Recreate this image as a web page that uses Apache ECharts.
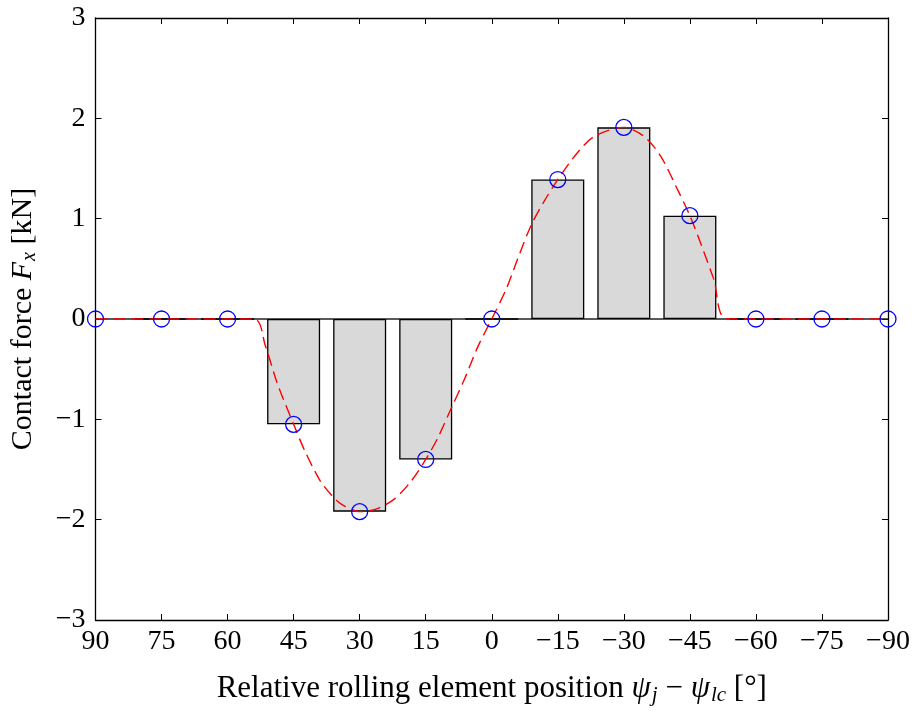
<!DOCTYPE html>
<html lang="en">

<head>
  <meta charset="UTF-8">
  <title>Contact force</title>
  <style>
    body { margin: 0; background: #fff; }
    #main { width: 917px; height: 711px; }
  </style>
</head>

<body>
  <div id="main"></div>
  <script src="https://cdn.jsdelivr.net/npm/echarts@6/dist/echarts.min.js"></script>
  <script>
    const myChart = echarts.init(document.getElementById('main'));

    // rolling element positions (deg) and contact forces (kN)
    const positions = [90, 75, 60, 45, 30, 15, 0, -15, -30, -45, -60, -75, -90];
    const forces = [0, 0, 0, -1.05, -1.92, -1.40, 0, 1.39, 1.91, 1.03, 0, 0, 0];

    // continuous model curve
    const curveAngle = [90, 54, 51.4, 48.8, 45, 42.4, 39, 36.3, 34, 30, 26, 22, 18.2, 15, 12.2, 9.2, 6.2, 3.2, 0,
      -3.3, -5.9, -8.9, -12, -15, -19.5, -23.3, -30, -34.6, -38.4, -42.2, -45, -47.4, -50.4, -53.5, -90];
    const curveForce = [0, 0, -0.27, -0.63, -1.05, -1.32, -1.61, -1.76, -1.85, -1.92, -1.89, -1.79, -1.61, -1.40, -1.18, -0.89, -0.6, -0.28, 0,
      0.3, 0.6, 0.93, 1.18, 1.39, 1.66, 1.82, 1.91, 1.82, 1.62, 1.29, 1.03, 0.76, 0.4, 0, 0];

    const yTicks = [-3, -2, -1, 0, 1, 2, 3];

    const font = 'Liberation Serif';
    const minus = v => String(v).replace('-', '\u2212');

    const points = positions.map((p, i) => [p, forces[i]]);
    // bars at the ±90 edges would stick out of the frame; they are zero anyway
    const bars = points.filter(d => Math.abs(d[0]) < 90);
    const curve = curveAngle.map((a, i) => [a, curveForce[i]]);
    const zeroLine = [[positions[0], 0], [positions[positions.length - 1], 0]];

    // rich text styles for axis titles (italic symbols, subscripts)
    const titleRich = size => ({
      n: { fontFamily: font, fontSize: size, color: '#000' },
      i: { fontFamily: font, fontSize: size, fontStyle: 'italic', color: '#000' },
      s: { fontFamily: font, fontSize: Math.round(size * 0.68), fontStyle: 'italic', color: '#000', padding: [13, 0, 0, 1] }
    });

    const option = {
      animation: false,
      grid: { left: 93, right: 29, top: 18, bottom: 89 },
      xAxis: [
        {
          type: 'value', min: -90, max: 90, interval: 15, inverse: true,
          axisLine: { onZero: false, lineStyle: { color: '#000', width: 1.3 } },
          axisTick: { inside: true, length: 6, lineStyle: { color: '#000' } },
          axisLabel: { color: '#000', fontFamily: font, fontSize: 28, margin: 8, formatter: minus },
          splitLine: { show: false },
          name: '{n|Relative rolling element position }{i|ψ}{s|j}{n| − }{i|ψ}{s|lc}{n| [°]}',
          nameLocation: 'middle', nameGap: 52,
          nameTextStyle: { rich: titleRich(31) }
        },
        {
          type: 'value', min: -90, max: 90, interval: 15, inverse: true, position: 'top',
          axisLine: { onZero: false, lineStyle: { color: '#000', width: 1.3 } },
          axisTick: { inside: true, length: 6, lineStyle: { color: '#000' } },
          axisLabel: { show: false },
          splitLine: { show: false }
        }
      ],
      yAxis: [
        {
          type: 'value', min: yTicks[0], max: yTicks[yTicks.length - 1], interval: 1,
          axisLine: { show: true, onZero: false, lineStyle: { color: '#000', width: 1.3 } },
          axisTick: { show: true, inside: true, length: 6, lineStyle: { color: '#000' } },
          axisLabel: { color: '#000', fontFamily: font, fontSize: 28, margin: 10, formatter: minus },
          splitLine: { show: false },
          name: '{n|Contact force }{i|F}{s|x}{n| [kN]}',
          nameLocation: 'middle', nameGap: 56, nameRotate: 90,
          nameTextStyle: { rich: titleRich(30) }
        },
        {
          type: 'value', min: -3, max: 3, interval: 1, position: 'right',
          axisLine: { show: true, onZero: false, lineStyle: { color: '#000', width: 1.3 } },
          axisTick: { show: true, inside: true, length: 6, lineStyle: { color: '#000' } },
          axisLabel: { show: false },
          splitLine: { show: false }
        }
      ],
      series: [
        {
          // zero-height bars show as a dark line on the baseline
          type: 'line', data: zeroLine, showSymbol: false, z: 1,
          lineStyle: { color: '#222', width: 1.5 }
        },
        {
          type: 'bar', data: bars, barWidth: 53, z: 2,
          itemStyle: { color: '#d9d9d9', borderColor: '#000', borderWidth: 1.3 }
        },
        {
          type: 'line', data: curve, smooth: 0.3, showSymbol: false, z: 3,
          lineStyle: { color: '#ff0000', width: 1.4, type: [12, 6] }
        },
        {
          type: 'line', data: points, symbol: 'circle', symbolSize: 16, z: 4,
          lineStyle: { opacity: 0 },
          itemStyle: { color: 'rgba(0,0,0,0)', borderColor: '#0000ff', borderWidth: 1.3 }
        }
      ]
    };

    myChart.setOption(option);
  </script>
</body>

</html>
